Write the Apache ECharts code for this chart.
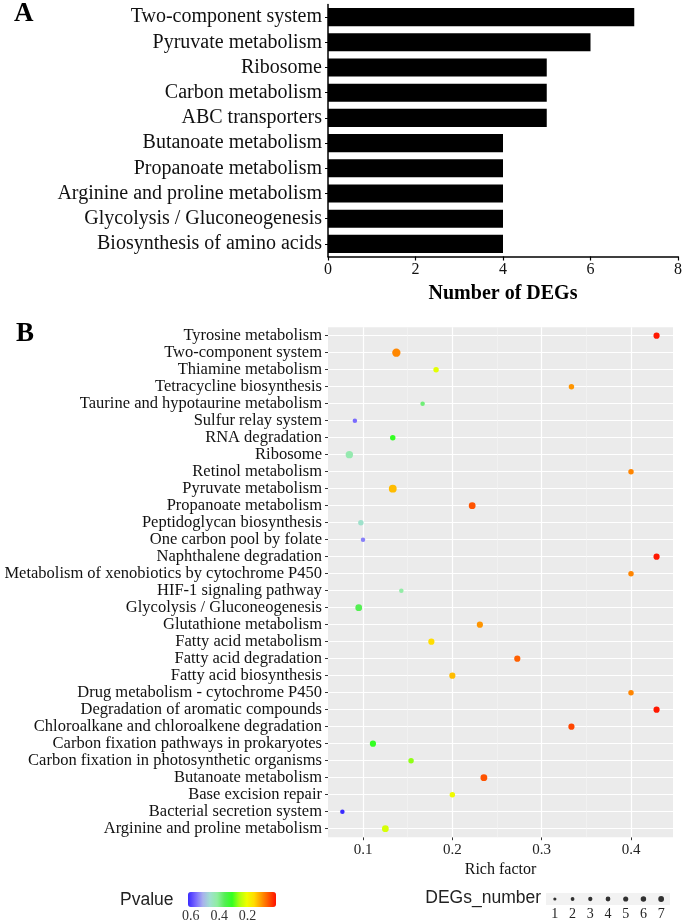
<!DOCTYPE html>
<html><head><meta charset="utf-8">
<script src="https://cdn.jsdelivr.net/npm/echarts@6/dist/echarts.min.js"></script>
<style>html,body{margin:0;padding:0;background:#fff}#c{width:685px;height:923px}</style>
</head><body><div id="c"></div>
<script>
// ---- Panel A data ----
const barCategories = ['Two-component system','Pyruvate metabolism','Ribosome','Carbon metabolism','ABC transporters','Butanoate metabolism','Propanoate metabolism','Arginine and proline metabolism','Glycolysis / Gluconeogenesis','Biosynthesis of amino acids'];
const barValues = [7,6,5,5,5,4,4,4,4,4];

// ---- Panel B data (top to bottom) ----
const pathways = ['Tyrosine metabolism','Two-component system','Thiamine metabolism','Tetracycline biosynthesis','Taurine and hypotaurine metabolism','Sulfur relay system','RNA degradation','Ribosome','Retinol metabolism','Pyruvate metabolism','Propanoate metabolism','Peptidoglycan biosynthesis','One carbon pool by folate','Naphthalene degradation','Metabolism of xenobiotics by cytochrome P450','HIF-1 signaling pathway','Glycolysis / Gluconeogenesis','Glutathione metabolism','Fatty acid metabolism','Fatty acid degradation','Fatty acid biosynthesis','Drug metabolism - cytochrome P450','Degradation of aromatic compounds','Chloroalkane and chloroalkene degradation','Carbon fixation pathways in prokaryotes','Carbon fixation in photosynthetic organisms','Butanoate metabolism','Base excision repair','Bacterial secretion system','Arginine and proline metabolism'];
const richFactor = [0.4286,0.1373,0.1818,0.3333,0.1667,0.0909,0.1333,0.0847,0.4,0.1333,0.2222,0.0976,0.1,0.4286,0.4,0.1429,0.0952,0.2308,0.1765,0.2727,0.2,0.4,0.4286,0.3333,0.1111,0.1538,0.2353,0.2,0.0769,0.125];
const degsNumber = [3,7,2,2,1,1,2,5,2,6,4,2,1,3,2,1,4,3,3,3,3,2,3,3,3,2,4,2,1,4];
const pValue = [0.005,0.09,0.215,0.10,0.385,0.565,0.31,0.43,0.088,0.13,0.05,0.46,0.55,0.005,0.088,0.42,0.36,0.10,0.155,0.06,0.13,0.088,0.005,0.04,0.31,0.27,0.05,0.2,0.62,0.225];

// ---- tick labels ----
const barTicks = [0,2,4,6,8];
const richTicks = [0.1,0.2,0.3,0.4];
const richMinorTicks = [0.15,0.25,0.35];
const pvalueTicks = [0.6,0.4,0.2];
const sizeLegendValues = [1,2,3,4,5,6,7];

const serif = "'Liberation Serif','Times New Roman',serif";
const sans = "'Liberation Sans',Arial,Helvetica,sans-serif";
const sizeOf = n => 2.2 + 2.3 * Math.sqrt(n);
const pColors = ['#FF1100','#FF5500','#FF9900','#FFDD00','#EEFF00','#AAFF11','#33FF22','#55EE55','#90EEA0','#A0E0D0','#A8B0EE','#7766FF','#3A2BFF'];

const gridLines = pathways.map(p => ({yAxis: p, lineStyle: {color: '#fff', width: 1.1, type: 'solid'}}))
  .concat(richTicks.map(v => ({xAxis: v, lineStyle: {color: '#fff', width: 1.2, type: 'solid'}})))
  .concat(richMinorTicks.map(v => ({xAxis: v, lineStyle: {color: '#f5f5f5', width: 0.6, type: 'solid'}})));

const chart = echarts.init(document.getElementById('c'));
chart.setOption({
  animation: false,
  backgroundColor: '#fff',
  grid: [
    {left: 328, top: 4.5, width: 351, height: 252},
    {left: 328, top: 327.2, width: 345, height: 510, show: true, backgroundColor: '#EBEBEB', borderWidth: 0},
    {left: 546, top: 893, width: 124, height: 12, show: true, backgroundColor: '#F2F2F2', borderWidth: 0},
    {left: 188, top: 892, width: 88, height: 15}
  ],
  xAxis: [
    {gridIndex: 0, type: 'value', min: barTicks[0], max: barTicks[barTicks.length-1], interval: 2,
     axisLine: {show: true, lineStyle: {color: '#000', width: 1.5}},
     axisTick: {show: true, length: 4, lineStyle: {color: '#000', width: 1.2}},
     axisLabel: {fontFamily: serif, fontSize: 16, color: '#111', margin: 5},
     splitLine: {show: false},
     name: 'Number of DEGs', nameLocation: 'middle', nameGap: 27,
     nameTextStyle: {fontFamily: serif, fontSize: 20, fontWeight: 'bold', color: '#000'}},
    {gridIndex: 1, type: 'value', min: 0.0608, max: 0.447,
     axisLine: {show: false},
     axisTick: {show: true, customValues: richTicks, length: 3, lineStyle: {color: '#333'}},
     axisLabel: {customValues: richTicks, fontFamily: serif, fontSize: 15, color: '#222', margin: 5, formatter: v => v.toFixed(1)},
     splitLine: {show: false},
     name: 'Rich factor', nameLocation: 'middle', nameGap: 21,
     nameTextStyle: {fontFamily: serif, fontSize: 16, color: '#111'}},
    {gridIndex: 2, type: 'category', data: sizeLegendValues.map(String),
     axisLine: {show: false}, axisTick: {show: false}, splitLine: {show: false},
     axisLabel: {fontFamily: serif, fontSize: 14, color: '#222', margin: 2, interval: 0}},
    {gridIndex: 3, type: 'value', min: 0, max: 0.62, interval: 0.2, inverse: true,
     axisLine: {show: false}, axisTick: {show: false}, splitLine: {show: false},
     axisLabel: {fontFamily: serif, fontSize: 14, color: '#333', margin: 2,
       formatter: v => pvalueTicks.some(t => Math.abs(t - v) < 1e-6) ? v.toFixed(1) : ''}}
  ],
  yAxis: [
    {gridIndex: 0, type: 'category', data: barCategories, inverse: true,
     axisLine: {show: true, lineStyle: {color: '#000', width: 1.5}},
     axisTick: {show: true, alignWithLabel: true, length: 3, lineStyle: {color: '#000'}},
     axisLabel: {fontFamily: serif, fontSize: 20, color: '#111', margin: 6, interval: 0}},
    {gridIndex: 1, type: 'category', data: pathways, inverse: true,
     axisLine: {show: false},
     axisTick: {show: true, alignWithLabel: true, length: 3, interval: 0, lineStyle: {color: '#333'}},
     axisLabel: {fontFamily: serif, fontSize: 16.5, color: '#111', margin: 6, interval: 0},
     splitLine: {show: false}},
    {gridIndex: 2, type: 'value', min: 0, max: 1, show: false},
    {gridIndex: 3, type: 'value', min: 0, max: 1, show: false}
  ],
  visualMap: {
    type: 'continuous', seriesIndex: 2, dimension: 3, min: 0, max: 0.62,
    orient: 'horizontal', inverse: true, left: 183, top: 887, padding: 5,
    itemWidth: 15, itemHeight: 88, calculable: false, text: null, hoverLink: false,
    inRange: {color: pColors}
  },
  series: [
    {type: 'bar', xAxisIndex: 0, yAxisIndex: 0, data: barValues, barCategoryGap: '28%',
     itemStyle: {color: '#000'}, silent: true},
    {type: 'scatter', xAxisIndex: 1, yAxisIndex: 1, data: [], z: 1, silent: true,
     markLine: {silent: true, z: 1, symbol: ['none', 'none'], label: {show: false}, animation: false,
       lineStyle: {type: 'solid'}, emphasis: {disabled: true}, data: gridLines}},
    {type: 'scatter', xAxisIndex: 1, yAxisIndex: 1, z: 4,
     data: pathways.map((p, i) => [richFactor[i], p, degsNumber[i], pValue[i]]),
     symbolSize: d => sizeOf(d[2]), itemStyle: {opacity: 1}},
    {type: 'scatter', xAxisIndex: 2, yAxisIndex: 2,
     data: sizeLegendValues.map(n => [String(n), 0.5, n]),
     symbolSize: d => 0.7 * sizeOf(d[2]), itemStyle: {color: '#000'}}
  ],
  graphic: [
    {type: 'text', left: 14, top: 1, style: {text: 'A', font: 'bold 27px ' + serif, fill: '#000'}},
    {type: 'text', left: 16, top: 321, style: {text: 'B', font: 'bold 27px ' + serif, fill: '#000'}},
    {type: 'text', left: 120, top: 891, style: {text: 'Pvalue', font: '17.5px ' + sans, fill: '#222'}},
    {type: 'text', right: 685 - 541, top: 889, style: {text: 'DEGs_number', font: '17.5px ' + sans, fill: '#222'}}
  ]
});
</script></body></html>
